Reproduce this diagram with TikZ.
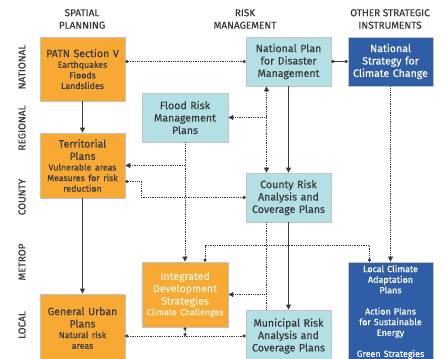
\documentclass[tikz,border=0pt]{standalone}
\usepackage{fontspec}
\setmainfont{Fira Sans}[FakeBold=0.35]
\usetikzlibrary{arrows.meta, positioning, calc}
\definecolor{colOrange}{HTML}{F7A933}
\definecolor{colCyan}{HTML}{B2E0E4}
\definecolor{colBlue}{HTML}{2F5DA6}
\definecolor{colText}{HTML}{3A3A3A}
\definecolor{colEdge}{HTML}{C4C4C4}
\definecolor{colCream}{HTML}{FFF3D9}
\newcommand{\smalltxt}{\fontsize{8.8}{10.6}\selectfont}
\tikzset{
  box/.style={draw=colEdge, line width=0.8pt, text width=82pt, align=center,
    inner sep=1.5pt, minimum width=85pt, font=\fontsize{10.6}{12.4}\selectfont, text=colText},
  spatial/.style={box, fill=colOrange},
  riskbox/.style={box, fill=colCyan},
  otherbox/.style={box, fill=colBlue, text=white},
  link/.style={colText, line width=1.1pt},
  dotlink/.style={colText, line width=1pt, dash pattern=on 1pt off 0.8pt},
  tip/.style={-{Triangle[length=5pt,width=5pt]}},
  twotips/.style={{Triangle[length=5pt,width=5pt]}-{Triangle[length=5pt,width=5pt]}},
  dots/.style={{Circle[length=3pt]}-{Circle[length=3pt]}},
  header/.style={font=\fontsize{10}{12.5}\selectfont, text=colText, align=center},
  level/.style={header, rotate=90}
}
\begin{document}
\begin{tikzpicture}[x=1pt, y=-1pt]
\useasboundingbox[fill=white] (0,0) rectangle (443,358);
% column headings
\node[header] (hspatial) at (82,19) {SPATIAL\\PLANNING};
\node[header] (hrisk) at (245,19) {RISK\\MANAGEMENT};
\node[header] (hother) at (390,19) {OTHER STRATEGIC\\INSTRUMENTS};
% levels
\node[level] (lnational) at (22,67) {NATIONAL};
\node[level] (lregional) at (22,128) {REGIONAL};
\node[level] (lcounty) at (22,197) {COUNTY};
\node[level] (lmetrop) at (22,262) {METROP};
\node[level] (llocal) at (22,325) {LOCAL};
% boxes
\node[spatial, minimum height=64pt] (patn) at (82.5,69)
  {PATN Section V\par{\smalltxt Earthquakes\\Floods\\Landslides\par}};
\node[riskbox, minimum height=49pt] (natplan) at (288.5,61.5)
  {National Plan\\for Disaster\\Management};
\node[otherbox, minimum height=49pt] (natstrat) at (390.5,61.5)
  {National\\Strategy for\\Climate Change};
\node[riskbox, minimum height=49pt, minimum width=86pt] (flood) at (185,117.5)
  {Flood Risk\\Management\\Plans};
\node[spatial, minimum height=65pt] (terr) at (82.5,165.5)
  {Territorial\\Plans\par{\smalltxt Vulnerable areas\\Measures for risk\\reduction\par}};
\node[riskbox, minimum height=49pt] (county) at (288.5,197.5)
  {County Risk\\Analysis and\\Coverage Plans};
\node[spatial, minimum height=65pt, minimum width=86pt, text=colCream] (integ) at (185,294.5)
  {Integrated\\Development\\Strategies\par{\smalltxt Climate Challenges\par}};
\node[spatial, minimum height=68pt] (urban) at (82.5,328)
  {General Urban\\Plans\par{\smalltxt Natural risk\\areas\par}};
\node[riskbox, minimum height=52pt] (municipal) at (288.5,336)
  {Municipal Risk\\Analysis and\\Coverage Plans};
\node[otherbox, minimum height=100pt, font=\fontsize{9}{10.6}\selectfont] (local) at (390.5,312)
  {Local Climate\\Adaptation\\Plans\\[10.6pt]Action Plans\\for Sustainable\\Energy\\[10.6pt]Green Strategies};
% vertical links
\draw[link, tip] (patn) -- (terr);
\draw[link, tip] (terr) -- (urban);
\draw[link, tip] (natplan) -- (county);
\draw[link, tip] (county) -- (municipal);
\draw[dotlink, tip] (natstrat) -- (local);
\draw[dotlink, tip] (flood) -- (integ);
% national row
\draw[dotlink, dots] (patn.east |- natplan.west) -- (natplan.west);
\draw[link, dots] (natplan) -- (natstrat);
% national plan to county
\coordinate (natplanL) at ($(natplan.south)+(-22,0)$);
\coordinate (countyT) at ($(county.north)+(-22,0)$);
\draw[dotlink, twotips] (natplanL) -- (countyT);
\draw[dotlink, tip] (flood.east -| natplanL) -- (flood.east);
\draw[dotlink, tip] (flood.south |- terr.east) -- (terr.east);
% territorial to county
\coordinate (terrR) at ($(terr.east)+(0,16)$);
\draw[dotlink, dots] (terrR) -- ++(16,0) |- (county.west);
% county to municipal
\coordinate (countyB) at ($(county.south)+(-22,0)$);
\coordinate (municipalT) at ($(municipal.north)+(-22,0)$);
\draw[dotlink] (countyB) -- (municipalT);
\draw[dotlink, tip] (integ.east -| countyB) -- (integ.east);
% integrated to local climate
\coordinate (integT) at ($(integ.north)+(20,0)$);
\coordinate (localT) at ($(local.north)+(-21,0)$);
\draw[dotlink, dots] (integT) -- ++(0,-16) -| (localT);
% local row
\draw[dotlink, dots] (urban.east |- municipal.west) -- (municipal.west);
\draw[dotlink, dots] (integ.south |- municipal.west) -- (integ.south);
\end{tikzpicture}
\end{document}
